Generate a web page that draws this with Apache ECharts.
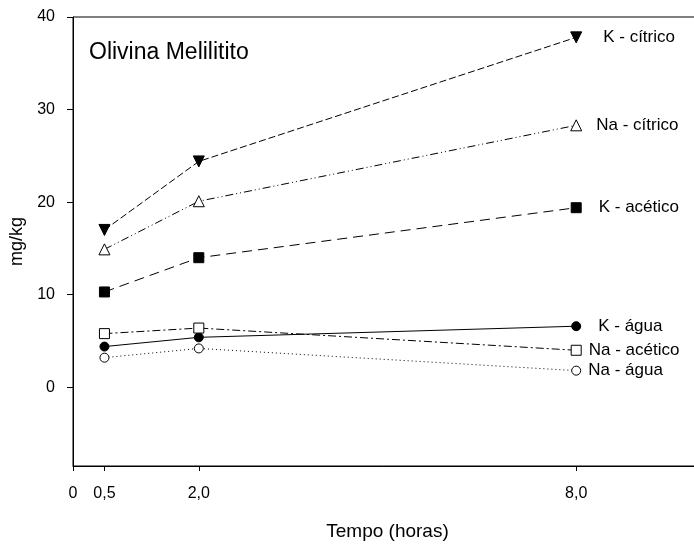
<!DOCTYPE html>
<html>
<head>
<meta charset="utf-8">
<script src="https://cdn.jsdelivr.net/npm/echarts@6/dist/echarts.min.js"></script>
<style>
  html, body { margin: 0; padding: 0; background: #fff; overflow: hidden; }
  #chart { width: 694px; height: 547px; }
</style>
</head>
<body>
<div id="chart"></div>
<script>
// Sampling times (hours) and extracted concentrations (mg/kg)
const tempos = [0.5, 2.0, 8.0];
const xTicks = [0, 0.5, 2.0, 8.0];

const kCitrico  = [17.0, 24.4, 37.8];
const naCitrico = [14.9, 20.1, 28.3];
const kAcetico  = [10.3, 14.0, 19.4];
const kAgua     = [4.4, 5.4, 6.6];
const naAcetico = [5.8, 6.4, 4.0];
const naAgua    = [3.2, 4.2, 1.8];

const nomes = ['K - cítrico', 'Na - cítrico', 'K - acético', 'K - água', 'Na - acético', 'Na - água'];

const FONT = '"Liberation Sans", Arial, sans-serif';

function pares(vals) {
  return tempos.map((t, i) => [t, vals[i]]);
}

function serie(nome, vals, opts) {
  const last = vals.length - 1;
  return {
    name: nome,
    type: 'line',
    data: pares(vals).map((p, i) => i === last ? {
      value: p,
      label: {
        show: true,
        position: 'right',
        distance: opts.labelDist,
        formatter: nome,
        color: '#000',
        fontFamily: FONT,
        fontSize: 17
      }
    } : p),
    symbol: opts.symbol,
    symbolSize: opts.size,
    symbolRotate: opts.rotate || 0,
    itemStyle: {
      color: opts.filled ? '#000' : '#fff',
      borderColor: '#000',
      borderWidth: 1
    },
    lineStyle: {
      color: '#000',
      width: 1,
      type: opts.dash
    },
    animation: false,
    z: 3
  };
}

const chart = echarts.init(document.getElementById('chart'));
chart.setOption({
  backgroundColor: '#fff',
  animation: false,
  title: {
    text: 'Olivina Melilitito',
    left: 84,
    top: 36,
    textStyle: { fontFamily: FONT, fontSize: 23, fontWeight: 'normal', color: '#000' }
  },
  grid: {
    left: 73,
    top: 17,
    right: -8,
    bottom: 81,
    containLabel: false,
    outerBoundsMode: 'none',
    show: true,
    borderColor: '#000',
    borderWidth: 1,
    backgroundColor: 'transparent'
  },
  xAxis: {
    type: 'value',
    min: 0,
    max: 10,
    name: 'Tempo (horas)',
    nameLocation: 'middle',
    nameGap: 56,
    nameTextStyle: { fontFamily: FONT, fontSize: 19, color: '#000' },
    axisLine: { onZero: false, lineStyle: { color: '#000', width: 1 } },
    axisTick: {
      show: true,
      length: 5,
      inside: false,
      customValues: xTicks,
      lineStyle: { color: '#000' }
    },
    axisLabel: {
      customValues: xTicks,
      margin: 20,
      color: '#000',
      fontFamily: FONT,
      fontSize: 16,
      formatter: v => v === 0 ? '0' : v.toFixed(1).replace('.', ',')
    },
    splitLine: { show: false }
  },
  yAxis: {
    type: 'value',
    min: -8.5,
    max: 40,
    splitNumber: 5,
    name: 'mg/kg',
    nameLocation: 'middle',
    nameGap: 46,
    nameRotate: 90,
    nameTextStyle: { fontFamily: FONT, fontSize: 18, color: '#000' },
    axisLine: { show: true, onZero: false, lineStyle: { color: '#000', width: 1 } },
    axisTick: { show: true, length: 6, inside: false, lineStyle: { color: '#000' } },
    axisLabel: {
      margin: 18,
      color: '#000',
      fontFamily: FONT,
      fontSize: 16,
      showMinLabel: false,
      formatter: v => (v < 0 ? '' : String(v))
    },
    splitLine: { show: false }
  },
  series: [
    serie(nomes[0], kCitrico,  { symbol: 'triangle', rotate: 180, size: 11, filled: true,  dash: [7, 3],             labelDist: 21 }),
    serie(nomes[1], naCitrico, { symbol: 'triangle', size: 11, filled: false, dash: [8, 3, 1, 3, 1, 3], labelDist: 14 }),
    serie(nomes[2], kAcetico,  { symbol: 'rect', size: 10, filled: true,  dash: [10, 6],            labelDist: 17 }),
    serie(nomes[3], kAgua,     { symbol: 'circle', size: 9, filled: true,  dash: 'solid',            labelDist: 17 }),
    serie(nomes[4], naAcetico, { symbol: 'rect', size: 10, filled: false, dash: [8, 3, 2, 3],       labelDist: 7 }),
    serie(nomes[5], naAgua,    { symbol: 'circle', size: 9, filled: false, dash: [1, 3],             labelDist: 7 })
  ]
});
</script>
</body>
</html>
